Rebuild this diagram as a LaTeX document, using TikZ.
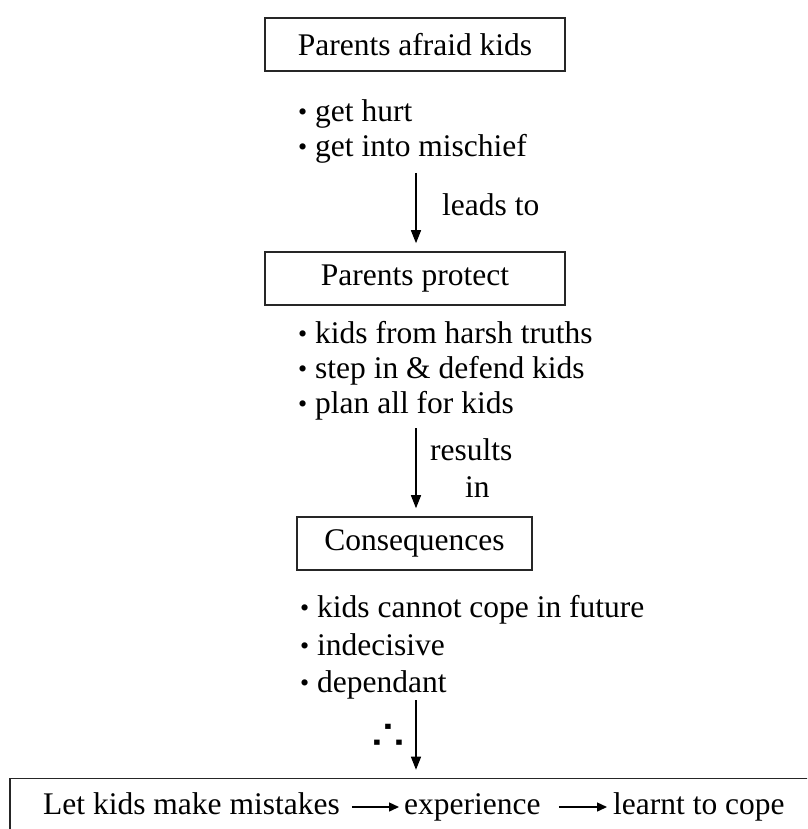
\documentclass[tikz,border=0pt]{standalone}
\usepackage{fontspec}
\setmainfont{Liberation Serif}
\newfontfamily\symfont{DejaVu Sans}
\usetikzlibrary{arrows.meta}
\newcommand\bul{\raisebox{1pt}{\fontsize{26}{26}\selectfont\textbullet}\ }
\begin{document}
\begin{tikzpicture}[x=1pt,y=-1pt,
  font=\fontsize{31.5}{35}\selectfont,
  box/.style={draw=black!85, line width=1.6pt, inner sep=0pt, minimum height=53pt},
  txt/.style={inner sep=0pt, anchor=base west, text height=21pt, text depth=7pt},
  arr/.style={-{Triangle[length=13pt,width=10pt]}, line width=1.3pt, shorten >=8pt},
  inarr/.style={-{Triangle[length=10pt,width=9pt]}, line width=1.4pt}]
\useasboundingbox (0,0) rectangle (807,829);
\clip (0,0) rectangle (807,829);
% first box
\node[box, minimum width=300pt] (b1) at (415,44.5) {Parents afraid kids};
\node[txt] (l11) at (298,122) {\bul get hurt};
\node[txt] (l12) at (298,157) {\bul get into mischief};
\coordinate (s1) at (416,173);
% second box
\node[box, minimum width=300pt] (b2) at (415,278.5) {Parents protect};
\draw[arr] (s1) -- (s1 |- b2.north);
\node[txt] (lab1) at (442,215) {leads to};
\node[txt] (l21) at (298,343) {\bul kids from harsh truths};
\node[txt] (l22) at (298,378) {\bul step in \& defend kids};
\node[txt] (l23) at (298,413) {\bul plan all for kids};
\coordinate (s2) at (416,428);
% third box
\node[box, minimum width=235pt] (b3) at (414.5,543.5) {Consequences};
\draw[arr] (s2) -- (s2 |- b3.north);
\node[txt] (lab2a) at (430,460) {results};
\node[txt] (lab2b) at (465,497) {in};
\node[txt] (l31) at (300,617) {\bul kids cannot cope in future};
\node[txt] (l32) at (300,655) {\bul indecisive};
\node[txt] (l33) at (300,692) {\bul dependant};
\coordinate (s3) at (416,700);
% therefore
\node[inner sep=0pt, font=\symfont\fontsize{38}{38}\selectfont] (th) at (388.5,737) {\scalebox{1.4}[1.1]{∴}};
% bottom box
\node[box, minimum width=808pt] (b4) at (414,805) {};
\draw[arr] (s3) -- (s3 |- b4.north);
\node[txt] (m1) at (43,814) {Let kids make mistakes};
\node[txt] (m2) at (404,814) {experience};
\node[txt] (m3) at (613,814) {learnt to cope};
\draw[inarr, shorten <=12pt, shorten >=5pt] (m1.east) -- (m2.west);
\draw[inarr, shorten <=18pt, shorten >=6pt] (m2.east) -- (m3.west);
\end{tikzpicture}
\end{document}
